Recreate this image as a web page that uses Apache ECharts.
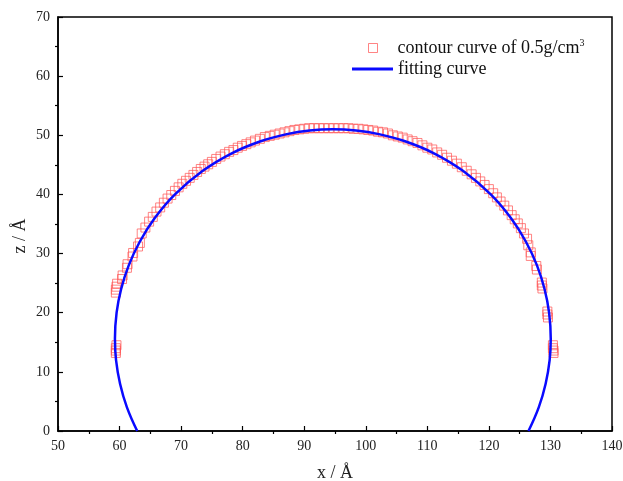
<!DOCTYPE html>
<html>
<head>
<meta charset="utf-8">
<script src="https://cdn.jsdelivr.net/npm/echarts@6/dist/echarts.min.js"></script>
<style>html,body{margin:0;padding:0;background:#fff}#c{width:623px;height:481px}</style>
</head>
<body>
<div id="c"></div>
<script>
// Fitting curve
var fitX = [62.87,61.20,60.08,59.43,59.25,59.52,60.26,61.49,63.28,65.72,69.00,73.52,78.30,82.92,87.17,90.89,94.65,98.41,102.13,106.38,111.00,115.78,120.30,123.58,126.02,127.81,129.04,129.78,130.05,129.87,129.22,128.10,126.43];
var fitZ = [0,4,8,12,15.6,20,24,28,32,36,40,44,47,49,50.2,50.8,51.0,50.8,50.2,49,47,44,40,36,32,28,24,20,15.6,12,8,4,0];

// Contour points of 0.5 g/cm3
var contourX = [59.4,59.4,59.4,59.5,59.4,59.4,59.5,59.6,60.4,60.5,61.2,61.3,62.1,62.2,63.0,63.3,
  63.6,64.2,64.8,65.4,66.0,66.6,67.2,67.8,68.4,69.0,69.6,70.2,70.8,71.4,72.0,72.6,73.2,73.8,74.4,75.0,75.7,76.4,77.1,77.8,78.5,79.2,79.9,80.6,81.3,82.0,82.8,83.6,84.4,85.2,86.0,86.8,87.6,88.4,89.2,90.0,90.8,91.6,92.4,93.2,94.0,94.8,95.6,96.4,97.2,98.0,98.8,99.6,
  100.4,101.2,102.0,102.8,103.6,104.4,105.2,106.0,106.8,107.6,108.4,109.2,110.0,110.8,111.6,112.4,113.2,114.0,114.8,115.6,116.4,117.2,117.9,118.6,119.3,120.0,120.7,121.3,121.9,122.5,123.1,123.7,124.2,124.7,125.2,125.7,126.2,126.4,
  126.8,126.8,127.7,127.8,128.6,128.6,128.7,129.5,129.5,129.6,130.4,130.4,130.5,130.5];
var contourZ = [13.2,13.6,14.0,14.5,23.4,23.9,24.4,24.9,25.7,26.3,27.6,28.2,29.5,30.1,31.2,31.8,
  33.4,34.4,35.4,36.2,37.1,37.8,38.6,39.3,39.9,40.6,41.2,41.8,42.3,42.8,43.3,43.8,44.3,44.7,45.1,45.5,46.0,46.4,46.8,47.2,47.5,47.9,48.2,48.5,48.8,49.1,49.4,49.7,49.9,50.1,50.3,50.5,50.7,50.9,51.0,51.1,51.2,51.2,51.2,51.2,51.2,51.2,51.2,51.2,51.2,51.1,51.1,51.0,
  50.9,50.8,50.6,50.5,50.3,50.0,49.8,49.6,49.3,49.0,48.7,48.3,47.9,47.6,47.1,46.7,46.2,45.7,45.2,44.6,44.0,43.4,42.8,42.2,41.6,40.9,40.2,39.5,38.8,38.1,37.3,36.5,35.8,35.1,34.3,33.4,32.5,31.4,
  30.2,29.6,27.9,27.3,25.1,24.6,24.1,20.2,19.7,19.2,14.5,14.0,13.6,13.2];

var xTicks = {min: 50, max: 140, interval: 10};
var zTicks = {min: 0, max: 70, interval: 10};

var serif = '"Liberation Serif", "Times New Roman", serif';
var fitData = fitX.map(function (x, i) { return [x, fitZ[i]]; });
var contourData = contourX.map(function (x, i) { return [x, contourZ[i]]; });
var nameContour = 'contour curve of 0.5g/cm³';
var nameFit = 'fitting curve';
var squareStroke = 'rgba(255,85,85,0.9)';

var chart = echarts.init(document.getElementById('c'), null, {renderer: 'canvas'});
var axisCommon = {
  axisLine: {show: true, onZero: false, lineStyle: {color: '#000', width: 1.5}},
  axisTick: {show: true, inside: true, length: 5, lineStyle: {color: '#000', width: 1.2}},
  minorTick: {show: true, splitNumber: 2, length: -3, lineStyle: {color: '#000', width: 1.2}},
  splitLine: {show: false},
  axisLabel: {color: '#222', fontFamily: serif, fontSize: 14, margin: 8},
  nameMoveOverlap: false,
  nameTextStyle: {color: '#222', fontFamily: serif, fontSize: 18}
};
var legendText = {
  fontFamily: serif, color: '#111', fontSize: 18,
  rich: {
    t: {fontFamily: serif, fontSize: 18, color: '#111', lineHeight: 20},
    tp: {fontFamily: serif, fontSize: 18, color: '#111', lineHeight: 20, padding: [0, 0, 0, 15]},
    s: {fontFamily: serif, fontSize: 10, color: '#111', lineHeight: 20, verticalAlign: 'top', padding: [0, 0, 8, 0]}
  }
};
chart.setOption({
  backgroundColor: '#fff',
  animation: false,
  grid: {left: 58, right: 11, top: 17, bottom: 50, show: true, borderColor: '#000', borderWidth: 1.5, backgroundColor: 'transparent', outerBoundsMode: 'none', containLabel: false},
  legend: [
    {
      orient: 'vertical', left: 363, top: 33, itemWidth: 9, itemHeight: 9,
      data: [{name: nameContour, icon: 'rect'}],
      formatter: function () { return '{tp|contour curve of 0.5g/cm}{s|3}'; },
      itemStyle: {color: 'rgba(255,255,255,0)', borderColor: squareStroke, borderWidth: 1},
      textStyle: legendText
    },
    {
      orient: 'vertical', left: 347, top: 55, itemWidth: 41, itemHeight: 3,
      data: [{name: nameFit, icon: 'rect'}],
      formatter: function () { return '{t|fitting curve}'; },
      itemStyle: {color: '#0a0aff', borderWidth: 0},
      textStyle: legendText
    }
  ],
  xAxis: Object.assign({}, axisCommon, {
    type: 'value', min: xTicks.min, max: xTicks.max, interval: xTicks.interval,
    name: 'x / Å', nameLocation: 'middle', nameGap: 33
  }),
  yAxis: Object.assign({}, axisCommon, {
    type: 'value', min: zTicks.min, max: zTicks.max, interval: zTicks.interval,
    name: 'z / Å', nameLocation: 'middle', nameGap: 29,
    nameTextStyle: {color: '#222', fontFamily: serif, fontSize: 18, padding: [0, 24, 0, 0]}
  }),
  series: [
    {
      name: nameContour, type: 'scatter', symbol: 'rect', symbolSize: 9,
      data: contourData, z: 2,
      itemStyle: {color: 'rgba(255,255,255,0)', borderColor: squareStroke, borderWidth: 1}
    },
    {
      name: nameFit, type: 'line', data: fitData, smooth: 0.4, showSymbol: false, symbol: 'none', z: 3,
      lineStyle: {color: '#0a0aff', width: 2.5}, itemStyle: {color: '#0a0aff'}
    }
  ]
});
</script>
</body>
</html>
